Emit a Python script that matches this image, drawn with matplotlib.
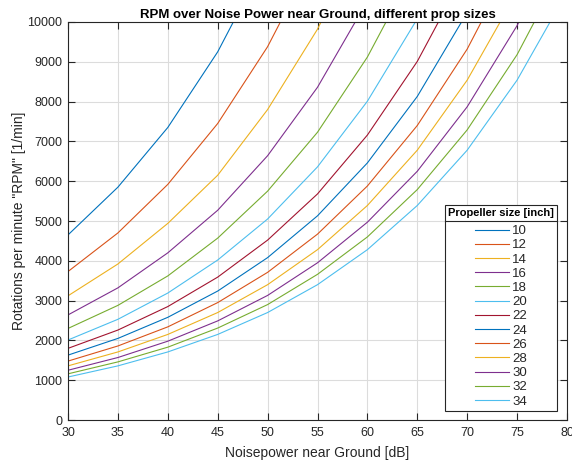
import numpy as np
import matplotlib
matplotlib.use("Agg")
import matplotlib.pyplot as plt
from matplotlib.lines import Line2D

plt.rcParams['font.family'] = ['Liberation Sans', 'DejaVu Sans']

noise_db = [30, 35, 40, 45, 50, 55, 60, 65, 70, 75, 80]
prop_sizes = [10, 12, 14, 16, 18, 20, 22, 24, 26, 28, 30, 32, 34]
nan = np.nan
rpm = {
    10: [4650, 5850, 7350, 9250, 11650, nan, nan, nan, nan, nan, nan],
    12: [3730, 4700, 5920, 7450, 9380, 11800, nan, nan, nan, nan, nan],
    14: [3120, 3920, 4940, 6150, 7800, 9820, 12370, nan, nan, nan, nan],
    16: [2640, 3320, 4200, 5270, 6640, 8360, 10530, nan, nan, nan, nan],
    18: [2300, 2880, 3620, 4570, 5750, 7230, 9120, 11480, nan, nan, nan],
    20: [2010, 2530, 3190, 4020, 5050, 6360, 8010, 10080, nan, nan, nan],
    22: [1800, 2260, 2850, 3590, 4520, 5680, 7160, 9010, 11350, nan, nan],
    24: [1630, 2050, 2580, 3240, 4080, 5130, 6460, 8130, 10240, nan, nan],
    26: [1480, 1860, 2340, 2950, 3710, 4670, 5880, 7400, 9320, 11730, nan],
    28: [1360, 1710, 2150, 2700, 3400, 4280, 5390, 6780, 8540, 10750, nan],
    30: [1250, 1570, 1980, 2490, 3130, 3950, 4970, 6250, 7870, 9910, 12480],
    32: [1160, 1460, 1830, 2310, 2900, 3660, 4600, 5790, 7290, 9180, 11560],
    34: [1080, 1360, 1710, 2150, 2700, 3400, 4280, 5390, 6780, 8540, 10750],
}
xticks = [30, 35, 40, 45, 50, 55, 60, 65, 70, 75, 80]
yticks = list(range(0, 10001, 1000))

colors = ['#0072BD', '#D95319', '#EDB120', '#7E2F8E', '#77AC30', '#4DBEEE', '#A2142F']
axcol = '#262626'

fig = plt.figure(figsize=(5.72, 4.61), dpi=100)
ax = fig.add_axes([68/572, 1-420/461, (567-68)/572, (420-22)/461])

for i, s in enumerate(prop_sizes):
    ax.plot(noise_db, rpm[s], color=colors[i % 7], lw=0.8, label=str(s))

ax.set_xlim(30, 80)
ax.set_ylim(0, 10000)
ax.set_xticks(xticks)
ax.set_yticks(yticks)
ax.grid(True, color='#dcdcdc', lw=0.8)
ax.set_axisbelow(True)
for sp in ax.spines.values():
    sp.set_color(axcol)
    sp.set_linewidth(0.8)
ax.tick_params(direction='in', top=True, right=True, colors=axcol, labelsize=9,
               length=5, width=0.8)
ax.tick_params(axis='x', pad=5)
ax.tick_params(axis='y', pad=4)
ax.set_xlabel('Noisepower near Ground [dB]', fontsize=10, color=axcol, labelpad=5)
ax.set_ylabel('Rotations per minute "RPM" [1/min]', fontsize=10, color=axcol, labelpad=1)
ax.set_title('RPM over Noise Power near Ground, different prop sizes', fontsize=9.5,
             fontweight='bold', color='black', pad=3)

leg = ax.legend(loc='lower right', bbox_to_anchor=(1 - 10/499, 9/398), fontsize=9.5,
                title='Propeller size [inch]', title_fontproperties={'weight': 'bold', 'size': 8},
                frameon=True, fancybox=False, edgecolor=axcol, framealpha=1,
                handlelength=2.6, handletextpad=0.25, labelspacing=0.15, borderpad=0.25,
                borderaxespad=0)
leg._legend_box.sep = 5
leg.get_frame().set_linewidth(0.8)
for t in leg.get_texts():
    t.set_color(axcol)

fig.canvas.draw()
r = fig.canvas.get_renderer()
fb = leg.get_frame().get_window_extent(r)
tb = leg.get_title().get_window_extent(r)
yline = tb.y0 - 3
inv = fig.transFigure.inverted()
(x0, y0) = inv.transform((fb.x0, yline))
(x1, _) = inv.transform((fb.x1, yline))
fig.add_artist(Line2D([x0, x1], [y0, y0], color=axcol, lw=0.8, transform=fig.transFigure))

fig.savefig('out.png', dpi=100)
